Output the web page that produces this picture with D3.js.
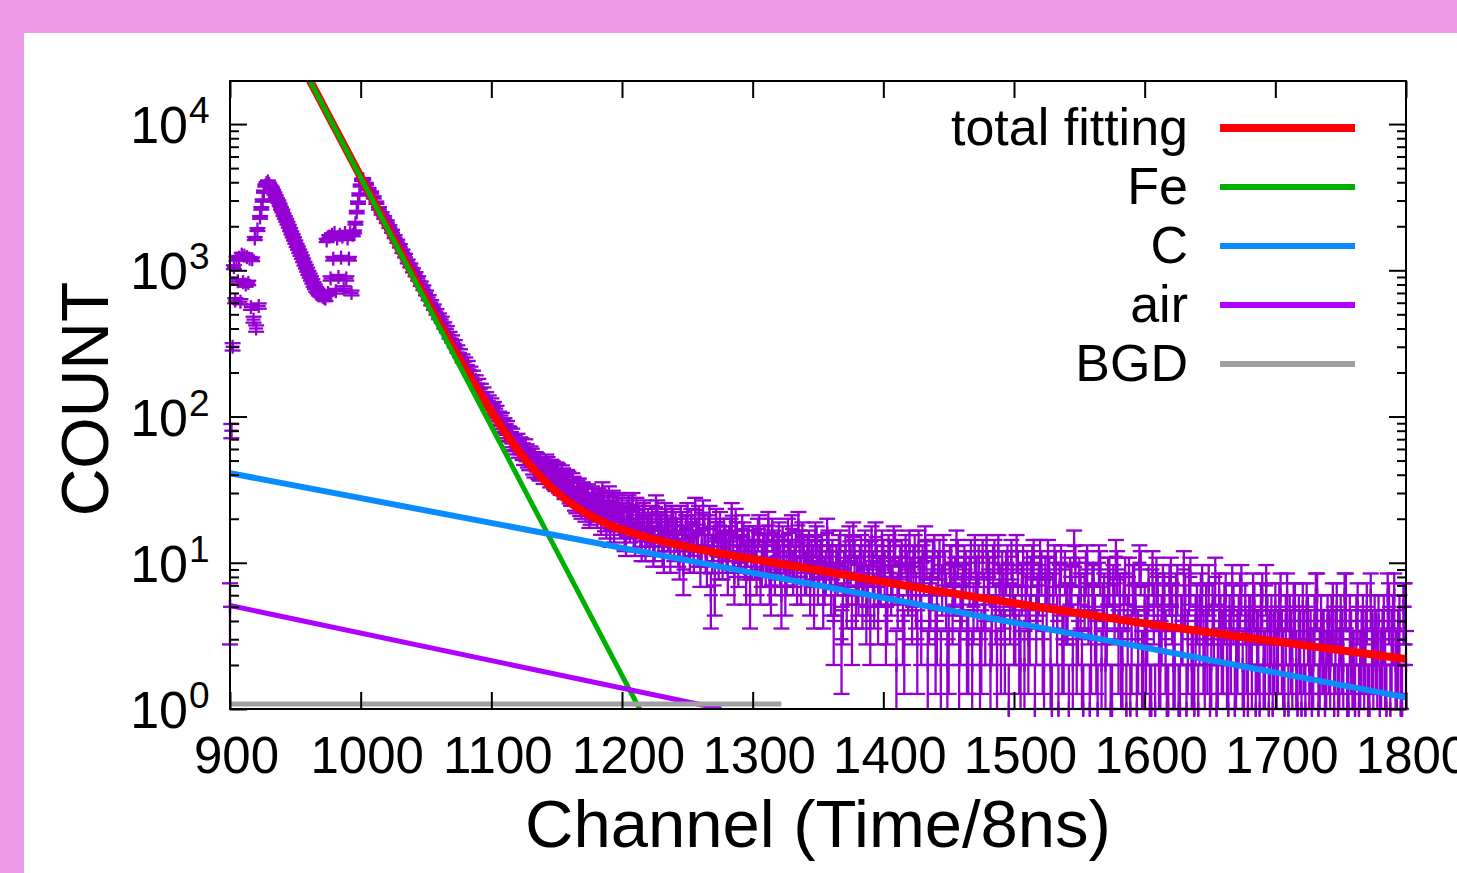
<!DOCTYPE html>
<html>
<head>
<meta charset="utf-8">
<script src="https://d3js.org/d3.v7.min.js"></script>
<style>
  body { margin: 0; background: #ed9ae9; }
  svg { display: block; }
  text { font-family: "Liberation Sans", Arial, sans-serif; fill: #000; }
</style>
</head>
<body>
<div id="chart"></div>
<script>
// ---- data ----
// counts per channel, 900..1001 (one value per channel)
var peakStart = 900;
var peakCounts = [
  5, 80, 300, 1050, 620, 1200, 840, 1220, 610, 1280,
  830, 1260, 800, 1230, 820, 1200, 560, 1190, 460, 1650,
  400, 1900, 570, 2300, 2650, 3000, 3450, 3800, 3950, 4050,
  3900, 3750, 3650, 3500, 3350, 3200, 3050, 2950, 2800, 2650,
  2550, 2400, 2300, 2200, 2100, 2000, 1900, 1800, 1720, 1640,
  1560, 1480, 1420, 1350, 1290, 1230, 1170, 1110, 1060, 1010,
  960, 920, 880, 840, 800, 770, 740, 720, 700, 690,
  680, 660, 650, 640, 1600, 700, 1700, 880, 1750, 1200,
  1800, 720, 1650, 900, 1750, 1220, 1700, 750, 1800, 880,
  1650, 1200, 1800, 700, 1750, 1830, 2100, 2500, 2900, 3300,
  3800, 4150
];

// counts on even channels, 1002..1800
var evenStart = 1002;
var evenCounts = [
  4200, 3900, 3600, 3400, 3150, 2900, 2650, 2450, 2300, 2150,
  1990, 1850, 1700, 1580, 1470, 1350, 1260, 1150, 1080, 1000,
  940, 880, 810, 760, 700, 650, 600, 560, 520, 485,
  460, 420, 395, 360, 340, 315, 290, 272, 250, 238,
  225, 205, 192, 178, 168, 155, 146, 135, 128, 122,
  115, 108, 98, 96, 88, 84, 76, 74, 66, 68,
  64, 58, 62, 52, 55, 47, 50, 44, 46, 41,
  48, 41, 44, 38, 42, 36, 40, 33, 37, 31,
  35, 28, 31, 26, 30, 24, 29, 23, 27, 25,
  27, 20, 25, 19, 28, 22, 18, 24, 20, 23,
  16, 22, 18, 25, 15, 20, 17, 21, 14, 19,
  17, 13, 24, 15, 18, 12, 19, 16, 20, 14,
  16, 11, 18, 14, 21, 12, 15, 23, 13, 10,
  22, 12, 17, 6, 14, 19, 11, 13, 16, 12,
  14, 21, 8, 15, 12, 17, 11, 13, 6, 14,
  11, 16, 8, 12, 10, 18, 7, 13, 11, 15,
  6, 12, 9, 11, 17, 10, 8, 13, 15, 9,
  12, 7, 10, 15, 8, 11, 6, 9, 13, 7,
  4, 10, 12, 3, 9, 6, 14, 4, 11, 8,
  10, 6, 13, 7, 4, 9, 15, 5, 8, 11,
  4, 12, 7, 14, 2, 8, 11, 3, 9, 13,
  5, 12, 3, 8, 10, 14, 2, 6, 11, 3,
  9, 2, 12, 6, 3, 10, 7, 13, 2, 6,
  10, 3, 8, 2, 12, 6, 2, 11, 4, 9,
  2, 10, 5, 12, 3, 6, 9, 1, 11, 4,
  12, 3, 7, 2, 9, 4, 10, 1, 6, 11,
  3, 8, 11, 2, 6, 9, 1, 10, 3, 5,
  1, 7, 13, 3, 8, 2, 6, 10, 1, 7,
  4, 1, 9, 5, 2, 8, 1, 7, 11, 3,
  2, 6, 1, 8, 3, 7, 1, 10, 2, 5,
  4, 1, 9, 1, 6, 2, 7, 3, 1, 8,
  2, 6, 1, 4, 9, 1, 7, 2, 1, 5,
  4, 7, 2, 3, 1, 5, 8, 2, 4, 3,
  6, 1, 3, 5, 2, 4, 7, 1, 3, 4,
  2, 5, 3, 1, 6, 2, 4, 3, 1, 5,
  3, 6, 2, 4, 1, 3, 5, 2, 4, 1,
  3, 5, 2, 1, 4, 6, 2, 3, 1, 4,
  2, 5, 3, 1, 4, 2, 6, 1, 3, 2,
  4, 1, 3, 2, 5, 1, 3, 4, 2, 1,
  3, 2, 6, 1, 4, 2, 3, 1, 5, 2
];

// counts on odd channels, 1101..1799
var oddStart = 1101;
var oddCounts = [
  112, 103, 97, 92, 86, 80, 77, 70, 67, 63,
  60, 63, 54, 57, 50, 53, 45, 49, 43, 45,
  44, 46, 39, 43, 37, 41, 35, 38, 34, 36,
  30, 33, 27, 32, 25, 29, 27, 22, 28, 24,
  22, 26, 30, 21, 24, 17, 26, 21, 25, 19,
  21, 15, 24, 19, 16, 23, 20, 14, 22, 17,
  15, 20, 14, 22, 17, 13, 21, 16, 12, 19,
  18, 13, 20, 9, 17, 14, 19, 12, 16, 20,
  13, 17, 10, 20, 12, 7, 15, 18, 11, 14,
  9, 16, 13, 19, 10, 12, 15, 8, 14, 11,
  13, 9, 17, 10, 14, 12, 8, 16, 9, 12,
  10, 14, 7, 16, 11, 9, 13, 18, 8, 12,
  9, 13, 11, 6, 14, 10, 12, 8, 16, 10,
  11, 7, 9, 13, 5, 12, 8, 10, 15, 6,
  7, 12, 9, 5, 11, 14, 6, 10, 8, 13,
  9, 5, 11, 8, 13, 6, 10, 4, 12, 7,
  8, 10, 6, 13, 4, 9, 11, 5, 8, 12,
  4, 11, 7, 9, 2, 10, 5, 8, 11, 4,
  7, 9, 3, 11, 5, 8, 10, 3, 6, 12,
  8, 4, 11, 2, 7, 9, 3, 10, 5, 7,
  4, 9, 2, 10, 6, 3, 8, 11, 4, 7,
  9, 2, 6, 8, 1, 10, 4, 7, 3, 9,
  5, 8, 2, 10, 4, 6, 1, 9, 5, 3,
  7, 3, 10, 2, 6, 4, 8, 1, 5, 9,
  6, 2, 8, 4, 1, 7, 5, 3, 9, 2,
  3, 7, 1, 5, 8, 2, 4, 6, 1, 7,
  5, 2, 7, 1, 4, 6, 3, 8, 2, 4,
  1, 6, 3, 5, 7, 2, 4, 1, 6, 3,
  5, 2, 4, 7, 1, 3, 6, 2, 5, 1,
  4, 6, 1, 3, 5, 2, 7, 1, 4, 3,
  2, 5, 3, 1, 6, 4, 2, 5, 1, 3,
  5, 1, 4, 3, 2, 6, 1, 4, 3, 2,
  3, 4, 1, 5, 2, 3, 6, 1, 4, 2,
  1, 5, 2, 4, 3, 1, 6, 2, 3, 4,
  2, 4, 1, 5, 3, 6, 2, 4, 1, 5
];

// fit curves, read at a few channels
var totalChannels = [955, 970, 985, 1000, 1020, 1040, 1060, 1080, 1100, 1115, 1130, 1145, 1160, 1175, 1190, 1210, 1230, 1260, 1300, 1350, 1400, 1500, 1600, 1700, 1800];
var totalFit = [25250, 14070, 7815, 4357, 2005, 930, 437, 212, 108, 68.3, 46.1, 33.3, 25.8, 21.2, 18.2, 15.8, 14.1, 12.3, 10.6, 8.9, 7.4, 5.3, 3.85, 2.9, 2.2];
var feChannels = [955, 1214];
var feFit = [25200, 0.98];
var cChannels = [900, 1800];
var cFit = [41, 1.2];
var airChannels = [900, 1276];
var airFit = [5.1, 1.0];
var bgdChannels = [900, 1322];
var bgdFit = [1.08, 1.08];

var xTicks = [900, 1000, 1100, 1200, 1300, 1400, 1500, 1600, 1700, 1800];
var yExponents = [0, 1, 2, 3, 4];
var legendLabels = ["total fitting", "Fe", "C", "air", "BGD"];
var legendColors = ["#ff0000", "#00b000", "#0a8cff", "#b000ff", "#a0a0a0"];

// ---- chart area ----
var svgWidth = 1457;
var svgHeight = 873;
var margin = { top: 81, left: 230 };
var width = 1176;
var height = 628;

var root = d3.select("#chart")
  .append("svg")
    .attr("width", svgWidth)
    .attr("height", svgHeight);

root.append("rect").attr("width", svgWidth).attr("height", svgHeight).attr("fill", "#ed9ae9");
root.append("rect").attr("x", 24).attr("y", 33).attr("width", svgWidth - 24).attr("height", svgHeight - 33).attr("fill", "#fff");

var svg = root.append("g")
  .attr("transform", `translate(${margin.left}, ${margin.top})`);

var x = d3.scaleLinear().domain([900, 1800]).range([0, width]);
var y = d3.scaleLog().domain([1, 19700]).range([height, 0]);

var defs = svg.append("defs");
defs.append("clipPath").attr("id", "plotClip")
  .append("rect").attr("width", width).attr("height", height);
defs.append("clipPath").attr("id", "dataClip")
  .append("rect").attr("x", -10).attr("y", 0).attr("width", width + 20).attr("height", height + 9);

// build points
var points = [];
peakCounts.forEach(function(c, i) { points.push({ ch: peakStart + i, n: c }); });
evenCounts.forEach(function(c, i) { points.push({ ch: evenStart + i * 2, n: c }); });
oddCounts.forEach(function(c, i) { points.push({ ch: oddStart + i * 2, n: c }); });

// error bars
var dataG = svg.append("g").attr("clip-path", "url(#dataClip)")
  .attr("stroke", "#9400d3").attr("stroke-width", 2.3).attr("fill", "none");

points.forEach(function(d) {
  var px = x(d.ch);
  var err = Math.sqrt(d.n);
  var hi = d.n + err;
  var lo = d.n - err;
  var yHi = y(hi);
  var yLo = lo >= 1 ? y(lo) : (lo <= 0 ? height + 8 : height);
  dataG.append("line").attr("x1", px).attr("x2", px).attr("y1", yHi).attr("y2", yLo);
  dataG.append("line").attr("x1", px - 8).attr("x2", px + 8).attr("y1", yHi).attr("y2", yHi);
  if (lo >= 1) {
    dataG.append("line").attr("x1", px - 8).attr("x2", px + 8).attr("y1", yLo).attr("y2", yLo);
  }
  var py = y(d.n);
  dataG.append("line").attr("x1", px - 7).attr("x2", px + 7).attr("y1", py).attr("y2", py);
  dataG.append("line").attr("x1", px).attr("x2", px).attr("y1", py - 7).attr("y2", py + 7);
});

// fit lines
function pairs(chs, vals) { return chs.map(function(c, i) { return [c, vals[i]]; }); }
var lineGen = d3.line().x(function(d) { return x(d[0]); }).y(function(d) { return y(d[1]); });
var smoothGen = d3.line().x(function(d) { return x(d[0]); }).y(function(d) { return y(d[1]); }).curve(d3.curveMonotoneX);

var fits = svg.append("g").attr("clip-path", "url(#plotClip)").attr("fill", "none");
fits.append("path").attr("d", smoothGen(pairs(totalChannels, totalFit))).attr("stroke", legendColors[0]).attr("stroke-width", 8);
fits.append("path").attr("d", lineGen(pairs(feChannels, feFit))).attr("stroke", legendColors[1]).attr("stroke-width", 5);
fits.append("path").attr("d", lineGen(pairs(cChannels, cFit))).attr("stroke", legendColors[2]).attr("stroke-width", 6);
fits.append("path").attr("d", lineGen(pairs(airChannels, airFit))).attr("stroke", legendColors[3]).attr("stroke-width", 5);
fits.append("path").attr("d", lineGen(pairs(bgdChannels, bgdFit))).attr("stroke", legendColors[4]).attr("stroke-width", 5);

// axes (ticks drawn inward, mirrored)
var minorVals = [];
yExponents.forEach(function(e) {
  for (var m = 2; m <= 9; m++) {
    var v = m * Math.pow(10, e);
    if (v < 19700) minorVals.push(v);
  }
});
var majorVals = yExponents.map(function(e) { return Math.pow(10, e); });

function styleAxis(g) {
  g.select(".domain").remove();
  g.selectAll(".tick line").attr("stroke", "#000").attr("stroke-width", 2);
}

svg.append("g").attr("transform", "translate(0," + height + ")")
  .call(d3.axisBottom(x).tickValues(xTicks).tickSize(-17).tickPadding(28).tickFormat(d3.format("d")))
  .call(styleAxis)
  .selectAll("text")
    .attr("font-size", 51)
    .attr("dx", 6)
    .attr("font-family", "Liberation Sans, Arial, sans-serif");
svg.append("g")
  .call(d3.axisTop(x).tickValues(xTicks).tickSize(-17).tickFormat(""))
  .call(styleAxis);
svg.append("g").call(d3.axisLeft(y).tickValues(majorVals).tickSize(-17).tickFormat("")).call(styleAxis);
svg.append("g").call(d3.axisLeft(y).tickValues(minorVals).tickSize(-9).tickFormat("")).call(styleAxis);
svg.append("g").attr("transform", "translate(" + width + ",0)")
  .call(d3.axisRight(y).tickValues(majorVals).tickSize(-17).tickFormat("")).call(styleAxis);
svg.append("g").attr("transform", "translate(" + width + ",0)")
  .call(d3.axisRight(y).tickValues(minorVals).tickSize(-9).tickFormat("")).call(styleAxis);

// border
svg.append("rect").attr("width", width).attr("height", height)
  .attr("fill", "none").attr("stroke", "#000").attr("stroke-width", 2);

// y tick labels with superscripts
var yLab = svg.append("g");
yExponents.forEach(function(e) {
  var ty = y(Math.pow(10, e));
  yLab.append("text").attr("x", -42).attr("y", ty + 19).attr("text-anchor", "end")
    .attr("font-size", 52).text("10");
  yLab.append("text").attr("x", -41).attr("y", ty - 1).attr("text-anchor", "start")
    .attr("font-size", 37).text(e);
});

// axis titles
svg.append("text")
  .attr("x", width / 2)
  .attr("y", height + 138)
  .attr("text-anchor", "middle")
  .attr("font-size", 67)
  .text("Channel (Time/8ns)");

svg.append("text")
  .attr("transform", "translate(" + (108 - margin.left) + "," + (399 - margin.top) + ") rotate(-90)")
  .attr("text-anchor", "middle")
  .attr("font-size", 66)
  .text("COUNT");

// legend
var legend = root.append("g");
legendLabels.forEach(function(label, i) {
  var ly = 128 + i * 59;
  legend.append("text").attr("x", 1188).attr("y", ly + 17).attr("text-anchor", "end")
    .attr("font-size", 52).text(label);
  legend.append("line").attr("x1", 1220).attr("x2", 1355).attr("y1", ly).attr("y2", ly)
    .attr("stroke", legendColors[i]).attr("stroke-width", i === 0 ? 8 : 6);
});
</script>
</body>
</html>
